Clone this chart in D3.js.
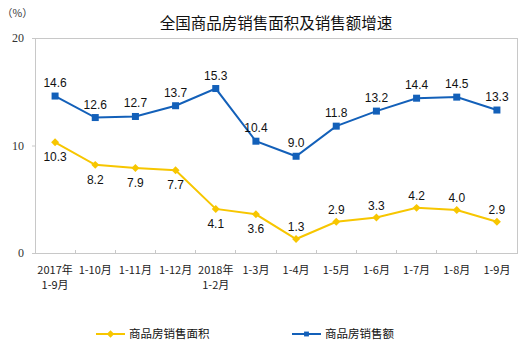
<!DOCTYPE html>
<html>
<head>
<meta charset="utf-8">
<script src="https://cdn.jsdelivr.net/npm/d3@7"></script>
<style>
  html, body { margin: 0; padding: 0; background: #fff; }
  svg { display: block; }
</style>
</head>
<body>
<svg id="chart" width="524" height="347"></svg>
<script>
// Periods (two-line labels split by "\n")
const categories = ["2017年\n1-9月", "1-10月", "1-11月", "1-12月", "2018年\n1-2月", "1-3月", "1-4月", "1-5月", "1-6月", "1-7月", "1-8月", "1-9月"];
// Growth of floor area sold (%)
const areaGrowth = [10.3, 8.2, 7.9, 7.7, 4.1, 3.6, 1.3, 2.9, 3.3, 4.2, 4.0, 2.9];
// Growth of sales value (%)
const salesGrowth = [14.6, 12.6, 12.7, 13.7, 15.3, 10.4, 9.0, 11.8, 13.2, 14.4, 14.5, 13.3];
// Which side of the point each area label sits on
const areaLabelSide = ["below", "below", "below", "below", "below", "below", "above", "above", "above", "above", "above", "above"];
const yTicks = [0, 10, 20];
const seriesNames = ["商品房销售面积", "商品房销售额"];
const title = "全国商品房销售面积及销售额增速";
const unitLabel = "（%）";

const svg = d3.select("#chart");
const plot = { left: 35, right: 517, top: 38, bottom: 253 };
const blue = "#1360b9";
const yellow = "#f7c600";

const x = d3.scaleBand().domain(categories).range([plot.left, plot.right]);
const cx = d => x(d) + x.bandwidth() / 2;
const y = d3.scaleLinear().domain([0, 20]).range([plot.bottom, plot.top]);

// Title and unit
svg.append("text").attr("x", 276).attr("y", 29).attr("text-anchor", "middle")
  .attr("font-family", "'Noto Sans CJK SC', sans-serif").attr("font-size", 15.5)
  .attr("fill", "#111").text(title);
svg.append("text").attr("x", 2).attr("y", 17)
  .attr("font-family", "'Noto Sans CJK SC', sans-serif").attr("font-size", 10.5)
  .attr("fill", "#333").text(unitLabel);

// Plot frame
svg.append("rect").attr("x", plot.left).attr("y", plot.top)
  .attr("width", plot.right - plot.left).attr("height", plot.bottom - plot.top)
  .attr("fill", "none").attr("stroke", "#c8c8c8").attr("stroke-width", 1)
  .attr("shape-rendering", "crispEdges");

// Y axis
const yAxis = svg.append("g").attr("transform", `translate(${plot.left},0)`)
  .call(d3.axisLeft(y).tickValues(yTicks).tickSize(3).tickPadding(8).tickFormat(d3.format("d")));
yAxis.select(".domain").attr("stroke", "#c8c8c8");
yAxis.selectAll(".tick line").attr("stroke", "#c8c8c8");
yAxis.selectAll("text").attr("font-family", "'Liberation Serif', serif").attr("font-size", 12).attr("fill", "#333");

// X axis: inner ticks at band boundaries
const xAxis = svg.append("g").attr("transform", `translate(0,${plot.bottom})`)
  .call(d3.axisBottom(x).tickSize(0).tickPadding(0).tickFormat(""));
xAxis.select(".domain").attr("stroke", "#c8c8c8");
svg.append("g").selectAll("line").data(categories.slice(1)).join("line")
  .attr("x1", d => x(d)).attr("x2", d => x(d))
  .attr("y1", plot.bottom).attr("y2", plot.bottom - 3)
  .attr("stroke", "#c8c8c8").attr("shape-rendering", "crispEdges");
const xl = svg.append("g").selectAll("text").data(categories).join("text")
  .attr("x", cx).attr("y", 274).attr("text-anchor", "middle")
  .attr("font-family", "'Noto Sans CJK SC', sans-serif").attr("font-size", 11).attr("fill", "#222");
xl.each(function(d) {
  const parts = d.split("\n");
  d3.select(this).selectAll("tspan").data(parts).join("tspan")
    .attr("x", cx(d)).attr("dy", (p, i) => i === 0 ? 0 : 15).text(p => p);
});

const line = d3.line().x((v, i) => cx(categories[i])).y(v => y(v));

// Sales value series
svg.append("path").datum(salesGrowth).attr("d", line)
  .attr("fill", "none").attr("stroke", blue).attr("stroke-width", 2);
svg.append("g").selectAll("rect").data(salesGrowth).join("rect")
  .attr("x", (v, i) => cx(categories[i]) - 3.5).attr("y", v => y(v) - 3.5)
  .attr("width", 7).attr("height", 7).attr("fill", blue);
svg.append("g").selectAll("text").data(salesGrowth).join("text")
  .attr("x", (v, i) => cx(categories[i])).attr("y", v => y(v) - 9)
  .attr("text-anchor", "middle").attr("font-family", "'Liberation Sans', Arial, sans-serif")
  .attr("font-size", 12).attr("fill", "#111").text(v => d3.format(".1f")(v));

// Floor area series
svg.append("path").datum(areaGrowth).attr("d", line)
  .attr("fill", "none").attr("stroke", yellow).attr("stroke-width", 2);
svg.append("g").selectAll("path").data(areaGrowth).join("path")
  .attr("d", d3.symbol().type(d3.symbolDiamond2).size(40))
  .attr("transform", (v, i) => `translate(${cx(categories[i])},${y(v)})`)
  .attr("fill", yellow);
svg.append("g").selectAll("text").data(areaGrowth).join("text")
  .attr("x", (v, i) => cx(categories[i]))
  .attr("y", (v, i) => areaLabelSide[i] === "below" ? y(v) + 19 : y(v) - 8)
  .attr("text-anchor", "middle").attr("font-family", "'Liberation Sans', Arial, sans-serif")
  .attr("font-size", 12).attr("fill", "#111").text(v => d3.format(".1f")(v));

// Legend
const legend = [
  { name: seriesNames[0], color: yellow, x: 96, shape: "diamond" },
  { name: seriesNames[1], color: blue, x: 292, shape: "square" }
];
const lg = svg.append("g").selectAll("g").data(legend).join("g")
  .attr("transform", d => `translate(${d.x},334)`);
lg.append("line").attr("x1", 0).attr("x2", 29).attr("y1", 0).attr("y2", 0)
  .attr("stroke", d => d.color).attr("stroke-width", 2);
lg.append("path")
  .attr("d", d => d3.symbol().type(d.shape === "diamond" ? d3.symbolDiamond2 : d3.symbolSquare2).size(d.shape === "diamond" ? 36 : 30)())
  .attr("transform", "translate(14.5,0)").attr("fill", d => d.color);
lg.append("text").attr("x", 33).attr("y", 4)
  .attr("font-family", "'Noto Sans CJK SC', sans-serif").attr("font-size", 11.5)
  .attr("fill", "#111").text(d => d.name);
</script>
</body>
</html>
